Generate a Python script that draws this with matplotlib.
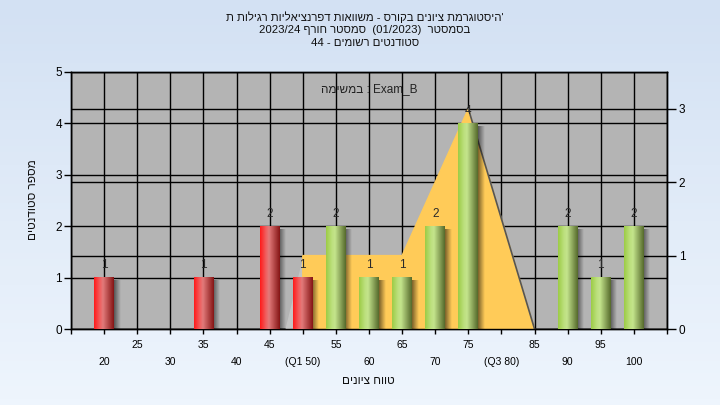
import numpy as np
import matplotlib
matplotlib.use('Agg')
from matplotlib import pyplot as plt
from matplotlib.colors import to_rgb

plt.rcParams['font.family'] = ['Liberation Sans', 'DejaVu Sans']

# texts (logical order)
TITLE = ["היסטוגרמת ציונים בקורס - משוואות דפרנציאליות רגילות ת'",
         "בסמסטר  (01/2023)  סמסטר חורף 2023/24",
         "סטודנטים רשומים - 44"]
EXAM = "במשימה : Exam_B"
XLABEL = "טווח ציונים"
YLABEL = "מספר סטודנטים"

# histogram data
grades = [20, 35, 45, 50, 55, 60, 65, 70, 75, 90, 95, 100]
counts = [1, 1, 2, 1, 2, 1, 1, 2, 4, 2, 1, 2]
pass_grade = 55

# yellow distribution polygon (right axis)
curve_x = [50, 50, 65, 75, 85]
curve_y = [0, 1, 1, 3, 0]

upper_ticks = [15, 25, 35, 45, 55, 65, 75, 85, 95, 105]
upper_labels = ['', '25', '35', '45', '55', '65', '75', '85', '95', '']
lower_ticks = [20, 30, 40, 50, 60, 70, 80, 90, 100]
lower_labels = ['20', '30', '40', '(Q1 50)', '60', '70', '(Q3 80)', '90', '100']


def vis(s):
    # tiny bidi pass (LTR paragraph) since matplotlib lays glyphs left to right
    t = []
    for ch in s:
        if '\u0590' <= ch <= '\u05ff':
            t.append('R')
        elif ch.isdigit():
            t.append('EN')
        elif ch.isalpha():
            t.append('L')
        else:
            t.append('N')
    for i in range(1, len(s) - 1):
        if s[i] in '/.,:' and t[i - 1] == 'EN' and t[i + 1] == 'EN':
            t[i] = 'EN'
    last = 'L'
    for i in range(len(t)):
        if t[i] in ('L', 'R'):
            last = t[i]
        elif t[i] == 'EN' and last == 'L':
            t[i] = 'L'
    i = 0
    while i < len(t):
        if t[i] == 'N':
            j = i
            while j < len(t) and t[j] == 'N':
                j += 1
            a = 'L' if i == 0 else ('R' if t[i - 1] in ('R', 'EN') else 'L')
            b = 'L' if j == len(t) else ('R' if t[j] in ('R', 'EN') else 'L')
            for k in range(i, j):
                t[k] = a if a == b else 'L'
            i = j
        else:
            i += 1
    lv = [{'L': 0, 'R': 1, 'EN': 2}[x] for x in t]
    mirror = {'(': ')', ')': '('}
    chars = [mirror.get(c, c) if l % 2 else c for c, l in zip(s, lv)]
    idx = list(range(len(s)))
    for level in (2, 1):
        i = 0
        while i < len(idx):
            if lv[idx[i]] >= level:
                j = i
                while j < len(idx) and lv[idx[j]] >= level:
                    j += 1
                idx[i:j] = idx[i:j][::-1]
                i = j
            else:
                i += 1
    return ''.join(chars[k] for k in idx)


def grad(stops, n=64):
    xs = np.linspace(0, 1, n)
    pos = [p for p, _ in stops]
    cols = np.array([to_rgb(c) for _, c in stops])
    img = np.stack([np.interp(xs, pos, cols[:, k]) for k in range(3)], axis=-1)
    return img[np.newaxis, :, :]


RED = grad([(0, '#ff1a1a'), (0.3, '#f06060'), (0.45, '#e27a7a'), (1, '#851515')])
GREEN = grad([(0, '#9ccc46'), (0.3, '#bde07e'), (0.45, '#c4e48c'), (1, '#566a2c')])

fig = plt.figure(figsize=(7.2, 4.05), dpi=100)

# light blue gradient background
bg = fig.add_axes([0, 0, 1, 1], zorder=-5)
bgimg = grad([(0, '#eef5fd'), (1, '#d3e1f3')]).transpose(1, 0, 2)
bg.imshow(bgimg, aspect='auto', extent=[0, 1, 0, 1], origin='lower')
bg.axis('off')

ax = fig.add_axes([71 / 720, 76 / 405, 596 / 720, 257 / 405])
ax2 = ax.twinx()
ax.set_zorder(ax2.get_zorder() + 1)
ax.patch.set_visible(False)
ax2.patch.set_visible(True)
ax2.set_facecolor('#b4b4b4')

# distribution polygon, drawn with the right-axis scale
ax.fill(curve_x, curve_y, color='#ffcb58', zorder=1.5, transform=ax2.transData)
ax.plot(curve_x[-2:], curve_y[-2:], color='#555555', lw=1.2, zorder=1.6,
        transform=ax2.transData)
ax.fill([curve_x[0] - 2.5, curve_x[1], curve_x[0]], [0, 0.92, 0],
        color='#c4c4c4', zorder=1.4, transform=ax2.transData)

w = 3.0
for g, c in zip(grades, counts):
    sh = np.zeros((1, 32, 4))
    sh[..., 3] = np.linspace(0.6, 0, 32)
    ax.imshow(sh, extent=[g + w / 2 - 0.2, g + w / 2 + 1.0, 0, c - 0.06],
              aspect='auto', zorder=2.5, interpolation='bilinear')
    img = RED if g < pass_grade else GREEN
    ax.imshow(img, extent=[g - w / 2, g + w / 2, 0, c], aspect='auto',
              zorder=3, interpolation='bilinear')
    ax.text(g, c + 0.12, str(c), ha='center', va='bottom', fontsize=8.5,
            color='#2a2a2a', zorder=4)

ax.set_xlim(15, 105)
ax.set_ylim(0, 5)
ax2.set_ylim(0, 3.5)

ax.set_yticks(range(6))
ax2.set_yticks([0, 1, 2, 3])
ax.set_xticks(lower_ticks)
ax.set_xticklabels(lower_labels)
ax.set_xticks(upper_ticks, minor=True)
ax.set_xticklabels(upper_labels, minor=True)

ax.tick_params(axis='y', length=5, width=1, pad=1.5, labelsize=8.5, color='black')
ax2.tick_params(axis='y', length=6.5, width=1, pad=2, labelsize=8.5, color='black')
ax.tick_params(axis='x', which='major', length=3.5, width=1, pad=16.5, labelsize=7.5)
ax.tick_params(axis='x', which='minor', length=3.5, width=1, pad=4.3, labelsize=7.5)

ax.set_axisbelow(True)
ax.grid(axis='y', color='black', lw=1)
ax.grid(axis='x', which='both', color='black', lw=1)
ax2.grid(axis='y', color='black', lw=1)
for a in (ax, ax2):
    for s in a.spines.values():
        s.set_color('black')
        s.set_linewidth(1)

ax.text(0.5, 0.935, vis(EXAM), transform=ax.transAxes, ha='center', va='center',
        fontsize=8.5, color='#222222', zorder=5)

fig.text(33 / 720, 1 - 200 / 405, vis(YLABEL), rotation=90, ha='center', va='center',
         fontsize=8.5, color='#111111')
fig.text(368 / 720, 1 - 381 / 405, vis(XLABEL), ha='center', va='center',
         fontsize=8.5, color='#111111')
for i, line in enumerate(TITLE):
    fig.text(365 / 720, 1 - (17 + 13 * i) / 405, vis(line), ha='center', va='center',
             fontsize=8.2, color='#111111')

plt.savefig('out.png', dpi=100)
